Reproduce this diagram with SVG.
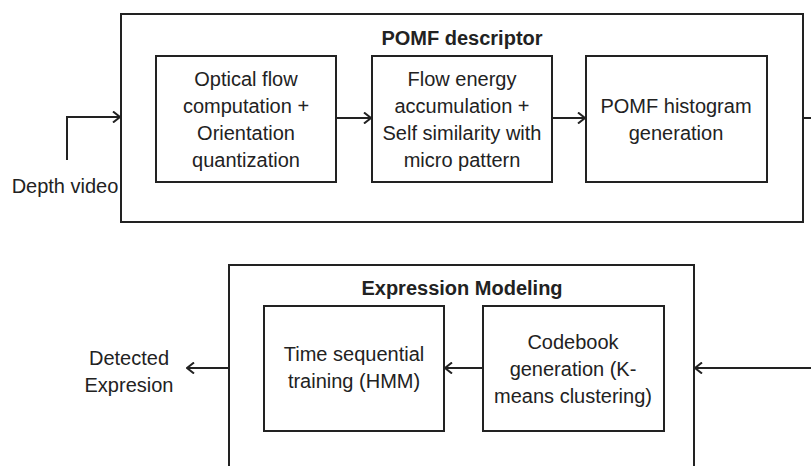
<svg xmlns="http://www.w3.org/2000/svg" width="811" height="466" viewBox="0 0 811 466">
<style>
.box{fill:#fff;stroke:#222;stroke-width:2}
.t{font-family:"Liberation Sans",Arial,sans-serif;font-size:20px;fill:#222;text-anchor:middle}
.b{font-weight:bold}
.c{stroke:#222;stroke-width:2;fill:none}
</style>
<defs>
<marker id="a" viewBox="0 0 10 12" refX="9" refY="6" markerWidth="10" markerHeight="12" markerUnits="userSpaceOnUse" orient="auto">
<polyline points="2,0.5 9,6 2,11.5" fill="none" stroke="#222" stroke-width="2"/>
</marker>
</defs>
<g id="pomf">
<rect class="box" x="121" y="14" width="682" height="208"/>
<text class="t b" x="462" y="45">POMF descriptor</text>
</g>
<g id="optical">
<rect class="box" x="156" y="56" width="180" height="126"/>
<text class="t" x="246" y="86">Optical flow</text>
<text class="t" x="246" y="113">computation +</text>
<text class="t" x="246" y="140">Orientation</text>
<text class="t" x="246" y="167">quantization</text>
</g>
<g id="flow">
<rect class="box" x="372" y="56" width="180" height="126"/>
<text class="t" x="462" y="86">Flow energy</text>
<text class="t" x="462" y="113">accumulation +</text>
<text class="t" x="462" y="140">Self similarity with</text>
<text class="t" x="462" y="167">micro pattern</text>
</g>
<g id="hist">
<rect class="box" x="586" y="56" width="181" height="126"/>
<text class="t" x="676" y="113">POMF histogram</text>
<text class="t" x="676" y="140">generation</text>
</g>
<g id="depth">
<text class="t" x="65" y="193">Depth video</text>
</g>
<g id="expr">
<rect class="box" x="229" y="265" width="465" height="220"/>
<text class="t b" x="462" y="295">Expression Modeling</text>
</g>
<g id="hmm">
<rect class="box" x="264" y="306" width="180" height="125"/>
<text class="t" x="354" y="361">Time sequential</text>
<text class="t" x="354" y="388">training (HMM)</text>
</g>
<g id="codebook">
<rect class="box" x="483" y="306" width="181" height="125"/>
<text class="t" x="573" y="349">Codebook</text>
<text class="t" x="573" y="376">generation (K-</text>
<text class="t" x="573" y="403">means clustering)</text>
</g>
<g id="detected">
<text class="t" x="129" y="365">Detected</text>
<text class="t" x="129" y="392">Expresion</text>
</g>
<g id="connectors">
<polyline class="c" points="67,160 67,117 120,117" marker-end="url(#a)"/>
<line class="c" x1="336" y1="118" x2="371" y2="118" marker-end="url(#a)"/>
<line class="c" x1="552" y1="118" x2="585" y2="118" marker-end="url(#a)"/>
<line class="c" x1="803" y1="118" x2="811" y2="118"/>
<line class="c" x1="811" y1="368" x2="695" y2="368" marker-end="url(#a)"/>
<line class="c" x1="483" y1="368" x2="445" y2="368" marker-end="url(#a)"/>
<line class="c" x1="229" y1="368" x2="187" y2="368" marker-end="url(#a)"/>
</g>
</svg>
